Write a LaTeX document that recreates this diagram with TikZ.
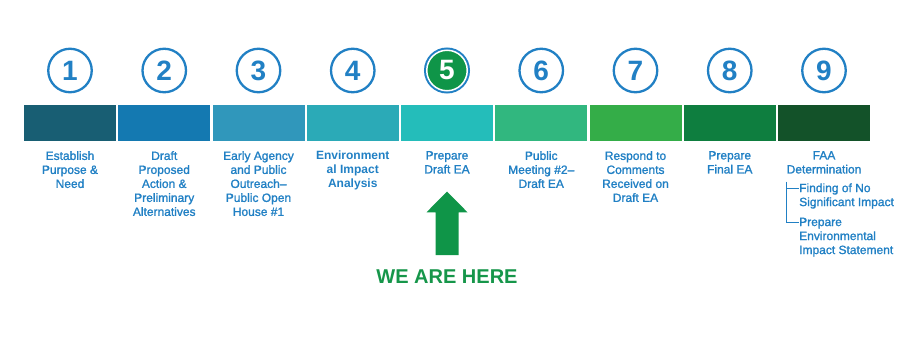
\documentclass[tikz,border=0pt]{standalone}
\usepackage{fontspec}
\setmainfont{Liberation Sans}
\newfontfamily\labelfont{Liberation Sans}[FakeBold=1.4]
\usepackage{tikz}
\usetikzlibrary{positioning}
\definecolor{stepblue}{HTML}{2180C4}
\definecolor{heregreen}{HTML}{0F9548}
\definecolor{hereword}{HTML}{16964A}
\definecolor{barA}{HTML}{185E73}
\definecolor{barB}{HTML}{1479B1}
\definecolor{barC}{HTML}{3097BB}
\definecolor{barD}{HTML}{2BAAB7}
\definecolor{barE}{HTML}{24BDBA}
\definecolor{barF}{HTML}{31B77F}
\definecolor{barG}{HTML}{34AD48}
\definecolor{barH}{HTML}{0E7E3F}
\definecolor{barI}{HTML}{135229}
\tikzset{
  stepbar/.style={minimum width=92pt,minimum height=36pt,inner sep=0pt,outer sep=0pt},
  stepcircle/.style={circle,draw=stepblue,line width=2.3pt,minimum size=43.5pt,
                     inner sep=0pt,text=stepblue,
                     font=\fontsize{28}{28}\selectfont\bfseries},
  herecircle/.style={circle,fill=heregreen,draw=white,line width=1.5pt,
                     preaction={draw=stepblue,line width=5.5pt},
                     minimum size=40.5pt,inner sep=0pt,text=white,
                     font=\fontsize{28}{28}\selectfont\bfseries},
  steplabel/.style={align=center,inner sep=0pt,text=stepblue,
                    font=\labelfont\fontsize{12}{14}\selectfont},
  sublabel/.style={steplabel,align=left,anchor=north west},
  bracketline/.style={draw=stepblue,line width=1pt},
  herelabel/.style={text=hereword,inner sep=0pt,
                    font=\fontsize{20}{24}\selectfont\bfseries},
}
\begin{document}
\begin{tikzpicture}[x=1pt,y=-1pt]
  \useasboundingbox (0,0) rectangle (923,361);
  % bars and numbered circles
  \foreach \col [count=\n] in {barA,barB,barC,barD,barE,barF,barG,barH,barI}{
    \node[stepbar,fill=\col] (b\n) at ({70+(\n-1)*94.25},123) {};
  }
  \foreach \n in {1,2,3,4,6,7,8,9}{
    \node[stepcircle] (c\n) at ({70+(\n-1)*94.25},70.5) {\n};
  }
  \node[herecircle] (c5) at ({70+4*94.25},70.5) {5};
  % step labels
  \foreach \n/\txt in {1/{Establish\\Purpose \&\\Need},
                       2/{Draft\\Proposed\\Action \&\\Preliminary\\Alternatives},
                       3/{Early Agency\\and Public\\Outreach–\\Public Open\\House \#1},
                       5/{Prepare\\Draft EA},
                       6/{Public\\Meeting \#2–\\Draft EA},
                       7/{Respond to\\Comments\\Received on\\Draft EA},
                       8/{Prepare\\Final EA},
                       9/{FAA\\Determination}}{
    \node[steplabel,below=10pt of b\n] (l\n) {\txt};
  }
  \node[steplabel,font=\fontsize{12}{14}\selectfont\bfseries,below=10pt of b4] (l4)
    {Environment\\al Impact\\Analysis};
  % FAA determination outcomes
  \node[sublabel] (o1) at (799,183.2) {Finding of No\\Significant Impact};
  \node[sublabel] (o2) at (799,217.6) {Prepare\\Environmental\\Impact Statement};
  \coordinate (brtop) at (786.7,181.5);
  \coordinate (tick1) at (786.7,188.3);
  \coordinate (tick2) at (786.7,222.7);
  \draw[bracketline] (brtop) -- (tick2) -- (o2.west |- tick2);
  \draw[bracketline] (tick1) -- (o1.west |- tick1);
  % we are here
  \fill[heregreen] (435.5,255) -- (435.5,212.3) -- (426.5,212.3) -- (447,191.5)
    -- (467.5,212.3) -- (458.5,212.3) -- (458.5,255) -- cycle;
  \node[herelabel] (here) at (447,277) {WE ARE HERE};
\end{tikzpicture}
\end{document}
